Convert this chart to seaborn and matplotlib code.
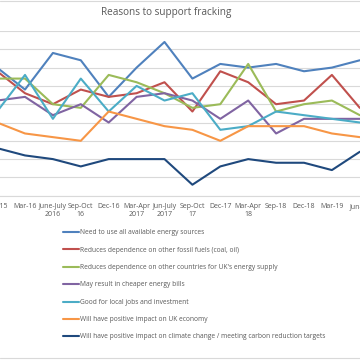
import matplotlib
matplotlib.use("Agg")
import matplotlib.pyplot as plt
import seaborn as sns
import pandas as pd
from matplotlib.lines import Line2D

periods = ["Dec-15", "Mar-16", "June-July\n2016", "Sep-Oct\n16", "Dec-16",
           "Mar-Apr\n2017", "Jun-July\n2017", "Sep-Oct\n17", "Dec-17",
           "Mar-Apr\n18", "Sep-18", "Dec-18", "Mar-19", "Jun-19"]

need_all_sources = [35, 29, 39, 37, 27, 35, 42, 32, 36, 35, 36, 34, 35, 37]
fossil_fuels = [34, 28, 25, 29, 27, 28, 31, 23, 34, 31, 25, 26, 33, 24]
other_countries = [32, 32, 25, 24, 33, 31, 28, 24, 25, 36, 23, 25, 26, 22]
cheaper_bills = [26, 27, 22, 25, 20, 27, 28, 26, 21, 26, 17, 21, 21, 21]
local_jobs = [23, 33, 21, 32, 23, 30, 26, 28, 18, 19, 23, 22, 21, 20]
uk_economy = [20, 17, 16, 15, 23, 21, 19, 18, 15, 19, 19, 19, 17, 16]
climate_change = [13, 11, 10, 8, 10, 10, 10, 3, 8, 10, 9, 9, 7, 12]

series_names = [
    "Need to use all available energy sources",
    "Reduces dependence on other fossil fuels (coal, oil)",
    "Reduces dependence on other countries for UK's energy supply",
    "May result in cheaper energy bills",
    "Good for local jobs and investment",
    "Will have positive impact on UK economy",
    "Will have positive impact on climate change / meeting carbon reduction targets",
]
series_values = [need_all_sources, fossil_fuels, other_countries, cheaper_bills,
                 local_jobs, uk_economy, climate_change]
colors = ["#4F81BD", "#C0504D", "#9BBB59", "#8064A2", "#4BACC6", "#F79646", "#1F497D"]

rows = []
for name, vals in zip(series_names, series_values):
    for i, v in enumerate(vals):
        rows.append({"idx": i, "value": v, "series": name})
df = pd.DataFrame(rows)

sns.set_theme(style="white")
plt.rcParams["font.family"] = ["Open Sans", "DejaVu Sans"]

fig = plt.figure(figsize=(3.6, 3.6), dpi=100)
step = 27.9
left_px = -2.9 - 0.5 * step
ax = fig.add_axes([left_px / 360, (360 - 195.7) / 360, 14 * step / 360, (195.7 - 31) / 360])

sns.lineplot(data=df, x="idx", y="value", hue="series", hue_order=series_names,
             palette=colors, linewidth=1.5, ax=ax, legend=True)

ax.set_xlim(-0.5, 13.5)
ax.set_ylim(0, 45)
ax.set_yticks(range(0, 46, 5))
ax.set_yticklabels([])
ax.tick_params(axis="y", length=0)
ax.grid(axis="y", color="#D9D9D9", linewidth=0.8)
ax.set_axisbelow(True)
ax.set_xticks(range(len(periods)))
ax.set_xticklabels(periods, fontsize=5.0, color="#595959", linespacing=1.15)
ax.tick_params(axis="x", length=0, pad=5.5)
for s in ["top", "left", "right"]:
    ax.spines[s].set_visible(False)
ax.spines["bottom"].set_color("#D9D9D9")
ax.spines["bottom"].set_linewidth(0.8)
ax.set_xlabel("")
ax.set_ylabel("")

handles, labels = ax.get_legend_handles_labels()
ax.legend_.remove()
fig.legend(handles, labels, loc="upper left", bbox_to_anchor=(62.5 / 360, 1 - 229.5 / 360),
           frameon=False, fontsize=4.8, handlelength=2.5, handletextpad=0.1,
           labelspacing=1.55, labelcolor="#595959", borderaxespad=0, borderpad=0)

fig.text(166.5 / 360, 1 - 13 / 360, "Reasons to support fracking", ha="center", va="center",
         fontsize=7.2, color="#595959")

fig.add_artist(Line2D([0, 1], [1 - 1 / 360, 1 - 1 / 360], color="#D9D9D9", linewidth=0.8,
                      transform=fig.transFigure))
fig.add_artist(Line2D([0, 1], [1 - 358 / 360, 1 - 358 / 360], color="#D9D9D9", linewidth=0.8,
                      transform=fig.transFigure))

fig.savefig("out.png", dpi=100)
